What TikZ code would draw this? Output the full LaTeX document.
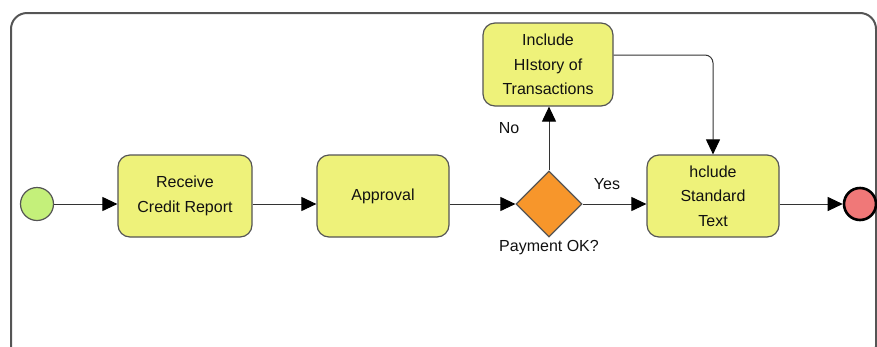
\documentclass[tikz,border=0pt]{standalone}
\usepackage{fontspec}
\setmainfont{Liberation Sans}
\usetikzlibrary{arrows.meta,shapes.geometric}
\definecolor{taskfill}{HTML}{EEF27A}
\definecolor{startfill}{HTML}{C4F07A}
\definecolor{endfill}{HTML}{F07878}
\definecolor{gatefill}{HTML}{F7962B}
\definecolor{edgegray}{HTML}{555555}
\definecolor{flowgray}{HTML}{333333}
\definecolor{inkcol}{HTML}{111111}
\tikzset{
  task/.style={rectangle, rounded corners=12pt, draw=edgegray, fill=taskfill,
    line width=1.2pt, align=center, inner sep=0pt, text=inkcol,
    font=\fontsize{16}{24.5}\selectfont},
  startev/.style={circle, draw=edgegray, fill=startfill, line width=1.2pt,
    minimum size=33pt, inner sep=0pt},
  endev/.style={circle, draw=black, fill=endfill, line width=2.6pt,
    minimum size=32pt, inner sep=0pt},
  gateway/.style={diamond, draw=edgegray, fill=gatefill, line width=1.2pt,
    minimum width=66pt, minimum height=66pt, inner sep=0pt},
  flow/.style={draw=flowgray, line width=1pt,
    -{Triangle[length=15pt,width=14pt,color=black]}},
  lbl/.style={font=\fontsize{16}{18}\selectfont, inner sep=0pt, text=inkcol},
}
\begin{document}
\begin{tikzpicture}[x=1pt,y=-1pt]
\useasboundingbox (0,0) rectangle (877,346);
% pool frame, running past the lower edge
\begin{scope}
  \clip (0,0) rectangle (877,346);
  \draw[edgegray, line width=2pt, rounded corners=16pt] (11,13) rectangle (876,362);
\end{scope}

\node[startev] (start) at (37,204) {};
\node[task, minimum width=134pt, minimum height=82pt] (recv) at (185,196)
  {Receive\\Credit Report};
\node[task, minimum width=132pt, minimum height=82pt] (appr) at (383,196)
  {Approval};
\node[gateway] (gate) at (549,204) {};
\node[task, minimum width=130pt, minimum height=83pt] (hist) at (548,64.5)
  {Include\\HIstory of\\Transactions};
\node[task, minimum width=132pt, minimum height=82pt] (std) at (713,196)
  {hclude\\Standard\\Text};
\node[endev] (end) at (860,204) {};

\node[lbl] (no) at (509,128) {No};
\node[lbl] (yes) at (607,184) {Yes};
\node[lbl] (pay) at (549,248) {Payment OK?};

\draw[flow] (start.east) -- (recv.west |- start);
\draw[flow] (recv.east |- start) -- (appr.west |- start);
\draw[flow] (appr.east |- start) -- (gate.west);
\draw[flow] (gate.east) -- (std.west |- gate);
\draw[flow] (gate.north) -- (hist.south -| gate);
\draw[flow] (std.east |- end) -- (end.west);
\draw[flow, rounded corners=8pt] (hist.east |- 0,55) -- (std.north |- 0,55) -- (std.north);
\end{tikzpicture}
\end{document}
